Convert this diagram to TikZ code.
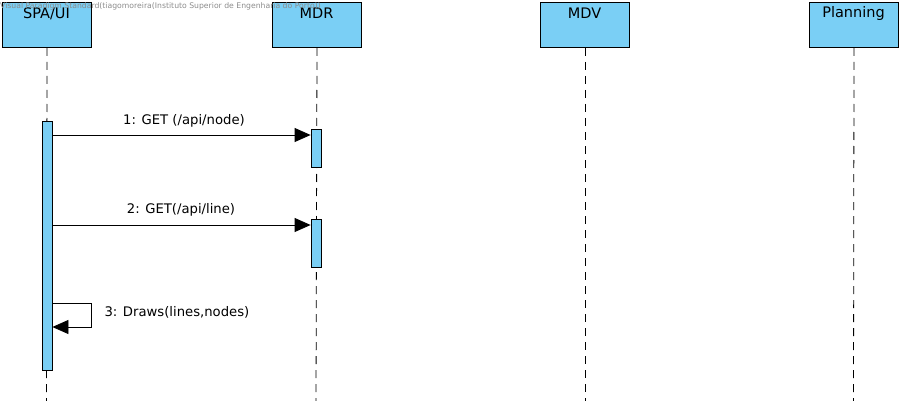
\documentclass[tikz,border=0pt]{standalone}
\usepackage{fontspec}
\setmainfont{DejaVu Sans}
\usetikzlibrary{arrows.meta}
\definecolor{vpblue}{HTML}{7ACFF5}
\begin{document}
\begin{tikzpicture}[x=1pt,y=-1pt,
  lifebox/.style={draw=black, fill=vpblue, line width=1pt, minimum width=89pt, minimum height=45pt, anchor=north west, inner sep=0pt},
  boxtitle/.style={font=\fontsize{14.5}{16}\selectfont, anchor=center},
  actbar/.style={draw=black, fill=vpblue, line width=0.8pt, inner sep=0pt, minimum width=10pt, anchor=north},
  lifeline/.style={line width=0.8pt, dash pattern=on 8pt off 6pt},
  msg/.style={line width=0.8pt, -{Triangle[length=16pt,width=14pt]}},
  msglabel/.style={font=\fontsize{13.2}{15}\selectfont},
]
\useasboundingbox (0,0) rectangle (904,401);
% lifeline heads
\node[lifebox] (spa) at (2,2) {};
\node[lifebox] (mdr) at (272,2) {};
\node[lifebox] (mdv) at (540,2) {};
\node[lifebox] (pln) at (809,2) {};
\node[boxtitle] (spat) at (46.5,13.5) {SPA/UI};
\node[boxtitle] (mdrt) at (316.5,13.5) {MDR};
\node[boxtitle] (mdvt) at (584.5,13.5) {MDV};
\node[boxtitle] (plnt) at (853.5,13.5) {Planning};
% bottom ends of lifelines
\coordinate (spaend) at (46.5,401);
\coordinate (mdrend) at (316,401);
\coordinate (mdvend) at (585,401);
\coordinate (plnend) at (853.5,401);
% lifelines
\draw[lifeline] (spa.south) -- (spaend);
\draw[lifeline] (mdr.south) -- (mdrend);
\draw[lifeline] (mdv.south) -- (mdvend);
\draw[lifeline] (pln.south) -- (plnend);
% activation bars
\node[actbar, minimum height=249pt] (a0) at (47,121) {};
\node[actbar, minimum height=38pt] (a1) at (316,129) {};
\node[actbar, minimum height=48pt] (a2) at (316,219) {};
% messages
\draw[msg] (a0.east |- 0,135) -- (a1.west |- 0,135);
\node[msglabel] (l1) at (184,121) {1: GET (/api/node)};
\draw[msg] (a0.east |- 0,225) -- (a2.west |- 0,225);
\node[msglabel] (l2) at (181,210) {2: GET(/api/line)};
\coordinate (s1) at (91,303);
\coordinate (s2) at (91,327);
\draw[msg] (a0.east |- 0,303) -- (s1) -- (s2) -- (a0.east |- 0,327);
\node[msglabel, anchor=west] (l3) at (101,312) {3: Draws(lines,nodes)};
% watermark
\node[font=\fontsize{7.7}{8}\selectfont, text=black!45, anchor=west, inner sep=0pt] (wm) at (0,6) {Visual Paradigm Standard(tiagomoreira(Instituto Superior de Engenharia do Porto))};
\end{tikzpicture}
\end{document}
